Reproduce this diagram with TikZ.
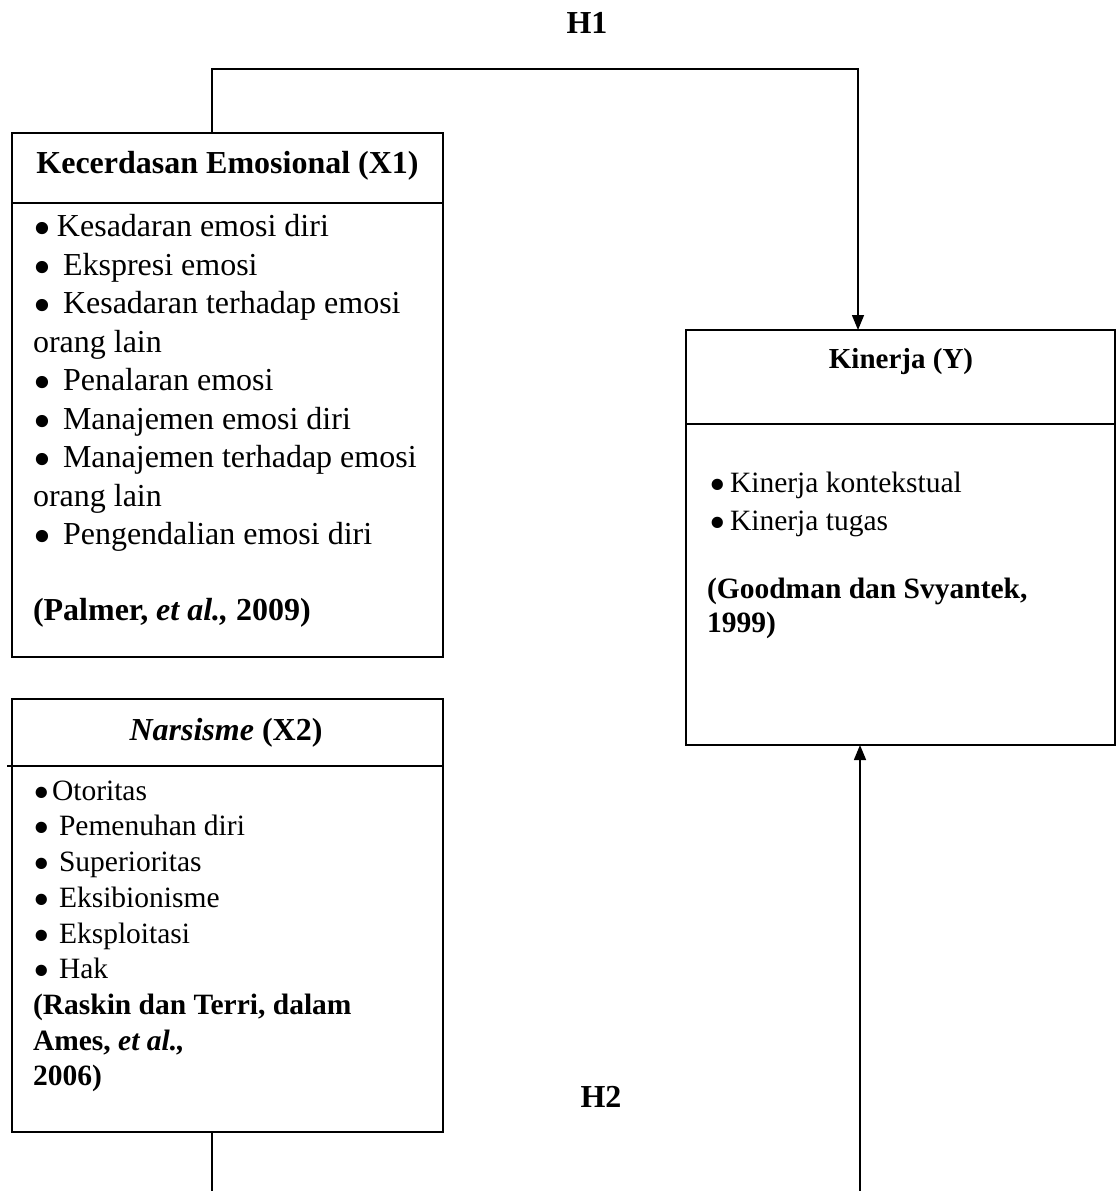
\documentclass[tikz,border=0pt]{standalone}
\usepackage{fontspec}
\usepackage{graphicx}
\setmainfont{Liberation Serif}
\usetikzlibrary{arrows.meta}
\newcommand\bigbul{\raisebox{-0.28em}[0.5em][0pt]{\scalebox{1.6}{\textbullet}}}
\newcommand\bitem[5]{\node[txt] (#1) at (#2,#3) {\makebox[#4pt][l]{\bigbul}#5};}
\begin{document}
\begin{tikzpicture}[x=1pt,y=-1pt, line width=1.5pt,
  box/.style={draw, rectangle, inner sep=0pt, outer sep=0pt, anchor=north west},
  txt/.style={inner sep=0pt, outer sep=0pt, anchor=base west, font=\fontsize{32}{38}\selectfont},
  head/.style={inner sep=0pt, outer sep=0pt, anchor=base, font=\fontsize{32}{38}\selectfont\bfseries},
  hlab/.style={inner sep=0pt, outer sep=0pt, anchor=base, font=\fontsize{32}{38}\selectfont\bfseries},
  arr/.style={-{Triangle[width=12pt,length=15pt]}}]
\useasboundingbox (0,0) rectangle (1116,1191);

% boxes
\node[box, minimum width=431pt, minimum height=524pt] (x1) at (12,133) {};
\node[box, minimum width=431pt, minimum height=433pt] (x2) at (12,699) {};
\node[box, minimum width=429pt, minimum height=415pt] (y) at (686,330) {};

% dividers
\draw ([yshift=-70pt]x1.north west) -- ([yshift=-70pt]x1.north east);
\draw ([xshift=-5pt,yshift=-67pt]x2.north west) -- ([yshift=-67pt]x2.north east);
\draw ([yshift=-94pt]y.north west) -- ([yshift=-94pt]y.north east);

% headers
\node[head] (x1h) at (227.5,173) {Kecerdasan Emosional (X1)};
\node[head] (x2h) at (226,740) {\textit{Narsisme} (X2)};
\node[head, font=\fontsize{29}{35}\selectfont\bfseries] (yh) at (901,368) {Kinerja (Y)};

% X1 items
\bitem{a1}{33}{236.8}{24}{Kesadaran emosi diri}
\bitem{a2}{33}{275.3}{30}{Ekspresi emosi}
\bitem{a3}{33}{313.8}{30}{Kesadaran terhadap emosi}
\node[txt] (a3b) at (33,352.3) {orang lain};
\bitem{a4}{33}{390.8}{30}{Penalaran emosi}
\bitem{a5}{33}{429.3}{30}{Manajemen emosi diri}
\bitem{a6}{33}{467.8}{30}{Manajemen terhadap emosi}
\node[txt] (a6b) at (33,506.3) {orang lain};
\bitem{a7}{33}{544.8}{30}{Pengendalian emosi diri}
\node[txt] (a8) at (33,620.5) {\textbf{(Palmer, \textit{et al.,} 2009)}};

% X2 and Y items (slightly smaller text)
\begin{scope}[txt/.style={inner sep=0pt, outer sep=0pt, anchor=base west, font=\fontsize{29.5}{35}\selectfont}]
\bitem{b1}{33}{800}{19}{Otoritas}
\bitem{b2}{33}{835}{26}{Pemenuhan diri}
\bitem{b3}{33}{871}{26}{Superioritas}
\bitem{b4}{33}{907}{26}{Eksibionisme}
\bitem{b5}{33}{943}{26}{Eksploitasi}
\bitem{b6}{33}{978}{26}{Hak}
\node[txt] (b7) at (33,1014) {\textbf{(Raskin dan Terri, dalam}};
\node[txt] (b8) at (33,1050) {\textbf{Ames, \textit{et al.,}}};
\node[txt] (b9) at (33,1085) {\textbf{2006)}};

\bitem{c1}{709}{492}{21}{Kinerja kontekstual}
\bitem{c2}{709}{530}{21}{Kinerja tugas}
\node[txt] (c3) at (707,598) {\textbf{(Goodman dan Svyantek,}};
\node[txt] (c4) at (707,632) {\textbf{1999)}};
\end{scope}

% labels
\node[hlab] (h1) at (587,33) {H1};
\node[hlab] (h2) at (601,1107) {H2};

% connectors
\coordinate (h1c) at (858,69);
\draw[arr] ([xshift=200pt]x1.north west) |- (h1c) -- (h1c |- y.north);
\coordinate (b2c) at (860,1191);
\draw[arr] (b2c) -- (b2c |- y.south);
\coordinate (b1c) at (212,1191);
\draw ([xshift=200pt]x2.south west) -- (b1c);
\end{tikzpicture}
\end{document}
